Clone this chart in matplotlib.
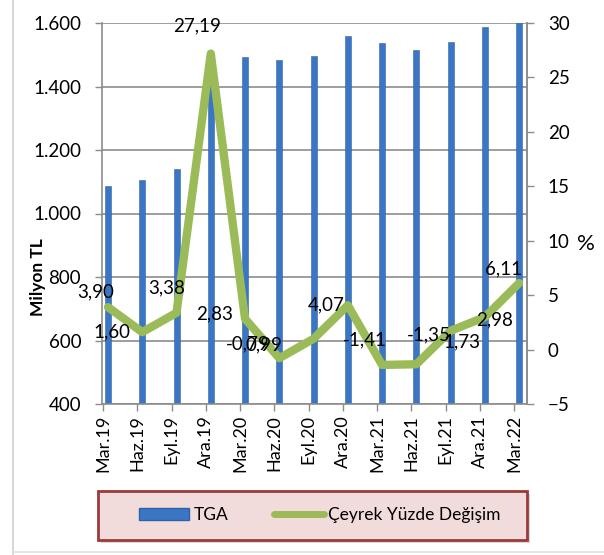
import numpy as np
import matplotlib
matplotlib.use("Agg")
import matplotlib.pyplot as plt
from matplotlib.patches import Rectangle, Patch
from matplotlib.lines import Line2D
from matplotlib.ticker import FuncFormatter, MultipleLocator

plt.rcParams['font.family'] = ['Lato', 'DejaVu Sans']

# quarterly TGA stock (million TL) and quarter-on-quarter % change
quarters = ['Mar.19', 'Haz.19', 'Eyl.19', 'Ara.19', 'Mar.20', 'Haz.20', 'Eyl.20',
            'Ara.20', 'Mar.21', 'Haz.21', 'Eyl.21', 'Ara.21', 'Mar.22']
tga = [1087, 1104, 1141, 1455, 1494, 1482, 1497, 1558, 1536, 1515, 1541, 1587, 1684]
pct_change = [3.90, 1.60, 3.38, 27.19, 2.83, -0.79, 0.99, 4.07, -1.41, -1.35, 1.73, 2.98, 6.11]

# label offsets in pixels (dx, dy), one per point
label_offsets = [(-12, 15), (-30, 0), (-10, 25), (-14, 28), (-30, 5), (-32, 14), (-50, -6),
                 (-22, 0), (-17, 25), (13, 29), (11, -11), (10, -3), (-16, 14)]

bar_color = '#3A76C4'
line_color = '#9BBB59'
axis_gray = '#8C8C8C'

W, H = 604, 555
fig = plt.figure(figsize=(W / 100, H / 100), dpi=100)
ax = fig.add_axes([102 / W, 1 - 404 / H, (527 - 102) / W, (404 - 23) / H])

x = np.arange(len(quarters))
ax.bar(x, np.array(tga) - 400, bottom=400, width=0.175, color=bar_color,
       edgecolor='#2F62A6', linewidth=0.4, zorder=2)
ax.set_ylim(400, 1600)
ax.set_xlim(-0.175, 12.23)
ax.yaxis.set_major_locator(MultipleLocator(200))
ax.yaxis.set_major_formatter(FuncFormatter(lambda v, p: f"{int(v):,}".replace(',', '.')))
ax.grid(axis='y', color=axis_gray, linewidth=1.2, zorder=0)
ax.set_axisbelow(True)

ax.set_xticks(x - 0.146)
ax.set_xticklabels(quarters, rotation=90, fontsize=13)
ax.tick_params(axis='x', length=5, width=1, color=axis_gray, pad=3)
ax.tick_params(axis='y', length=5, width=1, color=axis_gray, pad=10, labelsize=13.5)
for side in ['left', 'right', 'bottom']:
    ax.spines[side].set_color(axis_gray)
    ax.spines[side].set_linewidth(1.2)
ax.spines['top'].set_visible(False)

ax2 = ax.twinx()
ax2.plot(x, pct_change, color=line_color, linewidth=6, solid_capstyle='round',
         solid_joinstyle='round', zorder=3)
ax2.set_ylim(-5, 30)
ax2.yaxis.set_major_locator(MultipleLocator(5))
ax2.tick_params(axis='y', length=5, width=1, color=axis_gray, pad=10, labelsize=13.5)
for side in ['left', 'right', 'bottom', 'top']:
    ax2.spines[side].set_visible(False)
ax2.spines['right'].set_visible(True)
ax2.spines['right'].set_color(axis_gray)
ax2.spines['right'].set_linewidth(1.2)

for xi, v, (dx, dy) in zip(x, pct_change, label_offsets):
    ax2.annotate(f"{v:.2f}".replace('.', ','), (xi, v), xytext=(dx, dy),
                 textcoords='offset pixels', ha='center', va='center',
                 fontsize=13.5, color='black', zorder=4, annotation_clip=False)

fig.text(38 / W, 1 - 277 / H, 'Milyon TL', rotation=90, ha='center', va='center',
         fontsize=12.5, fontweight='bold')
fig.text(586 / W, 1 - 244 / H, '%', ha='center', va='center', fontsize=16)

# outer chart border
fig.add_artist(Line2D([13 / W, 13 / W], [0, 1], color='#D0D0D0', linewidth=1.2,
                      transform=fig.transFigure))
fig.add_artist(Line2D([13 / W, 1], [1 - 552 / H, 1 - 552 / H], color='#E0E0E0',
                      linewidth=1.2, transform=fig.transFigure))

# legend box with shadow
lx0, ly0, lx1, ly1 = 98, 491, 527, 540
fig.add_artist(Rectangle(((lx0 + 3) / W, 1 - (ly1 + 3) / H), (lx1 - lx0) / W, (ly1 - ly0) / H,
                         transform=fig.transFigure, facecolor='#BFBFBF', edgecolor='none', alpha=0.6))
fig.add_artist(Rectangle((lx0 / W, 1 - ly1 / H), (lx1 - lx0) / W, (ly1 - ly0) / H,
                         transform=fig.transFigure, facecolor='#F2DCDB', edgecolor='#9C3A3A',
                         linewidth=2))
handles = [Patch(facecolor=bar_color, edgecolor='#2F62A6', label='TGA'),
           Line2D([], [], color=line_color, linewidth=5, solid_capstyle='round',
                  label='Çeyrek Yüzde Değişim')]
fig.legend(handles=handles, loc='center', bbox_to_anchor=(320 / W, 1 - 515 / H), ncol=2,
           frameon=False, fontsize=12.5, handlelength=2.9, handleheight=0.75,
           columnspacing=2.6, handletextpad=0.25)

fig.savefig('out.png', dpi=100)
